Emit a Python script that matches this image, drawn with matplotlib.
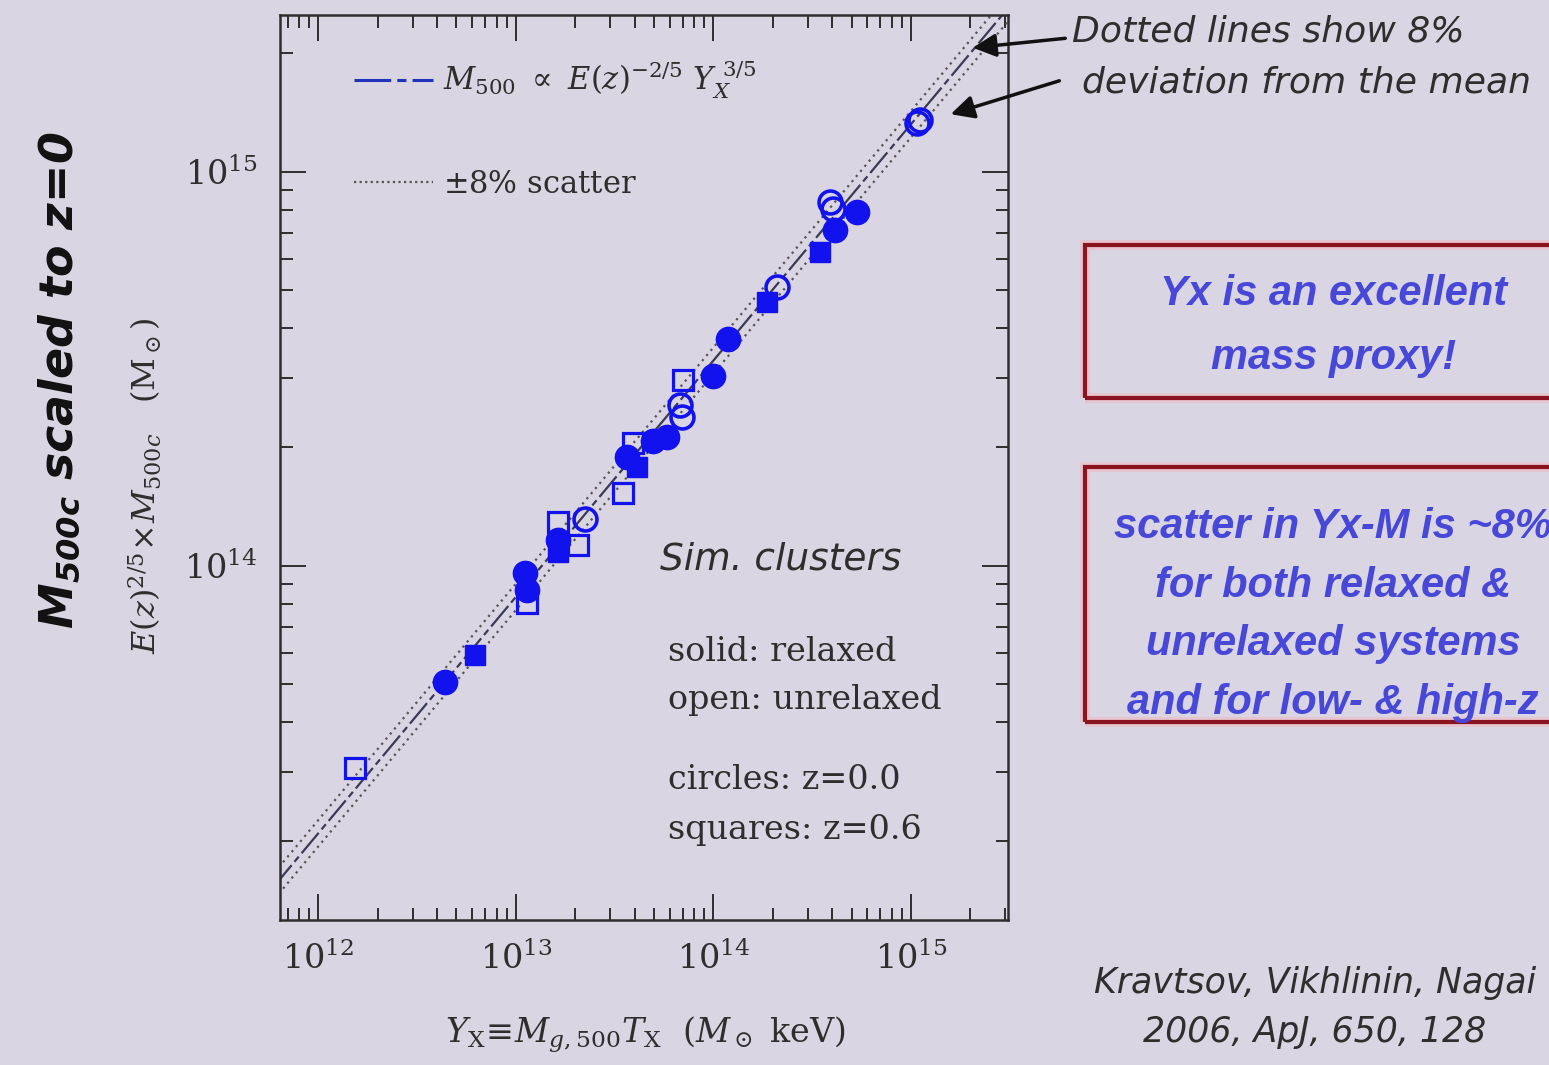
import numpy as np
import matplotlib
matplotlib.use('Agg')
import matplotlib.pyplot as plt
from matplotlib.lines import Line2D
from matplotlib.patches import Rectangle, FancyArrowPatch

plt.rcParams['font.family'] = 'DejaVu Serif'
plt.rcParams['mathtext.fontset'] = 'custom'
plt.rcParams['mathtext.rm'] = 'DejaVu Serif'
plt.rcParams['mathtext.it'] = 'DejaVu Serif:italic'
plt.rcParams['mathtext.bf'] = 'DejaVu Sans:bold:italic'
plt.rcParams['mathtext.fallback'] = 'stix'

# Y_X (Msun keV) and E(z)^{2/5} M500c (Msun) for the simulated clusters
relaxed_z0_yx = [4.39e12, 1.11e13, 1.14e13, 1.64e13, 3.66e13, 4.94e13, 5.82e13,
                 9.95e13, 1.19e14, 4.12e14, 5.32e14]
relaxed_z0_m = [5.05e13, 9.6e13, 8.69e13, 1.16e14, 1.89e14, 2.07e14, 2.12e14,
                3.02e14, 3.75e14, 7.13e14, 7.91e14]

relaxed_z06_yx = [6.22e12, 1.64e13, 4.11e13, 1.87e14, 3.46e14]
relaxed_z06_m = [5.94e13, 1.08e14, 1.78e14, 4.66e14, 6.27e14]

unrelaxed_z0_yx = [2.24e13, 6.93e13, 6.78e13, 2.10e14, 3.89e14, 4.03e14, 1.07e15, 1.11e15]
unrelaxed_z0_m = [1.31e14, 2.38e14, 2.56e14, 5.11e14, 8.39e14, 8.02e14, 1.33e15, 1.35e15]

unrelaxed_z06_yx = [1.54e12, 1.14e13, 1.64e13, 2.07e13, 3.49e13, 3.92e13, 7.01e13]
unrelaxed_z06_m = [3.07e13, 8.05e13, 1.29e14, 1.13e14, 1.53e14, 2.05e14, 2.96e14]

# best-fit M ~ Yx^(3/5) and its +-8% band
slope = 0.6
norm = 1.32e15          # M at Yx = 1e15
scatter = 0.08
yx_line = np.array([6.0e11, 3.5e15])

bg = '#d9d5e2'
blue = '#1212ee'
ink = '#2e2e2e'

fig = plt.figure(figsize=(15.49, 10.65), dpi=100, facecolor=bg)
ax = fig.add_axes([0.1808, 0.1362, 0.470, 0.8498], facecolor=bg)

m_line = norm * (yx_line / 1e15) ** slope
ax.plot(yx_line, m_line, color='#3a3a55', lw=1.6, dashes=[12, 2, 3, 2])
ax.plot(yx_line, m_line * (1 + scatter), color='#555555', lw=1.6, ls=(0, (1, 2)))
ax.plot(yx_line, m_line / (1 + scatter), color='#555555', lw=1.6, ls=(0, (1, 2)))

ax.plot(relaxed_z0_yx, relaxed_z0_m, 'o', ms=17.5, mfc=blue, mec=blue, mew=1)
ax.plot(relaxed_z06_yx, relaxed_z06_m, 's', ms=14, mfc=blue, mec=blue, mew=1)
ax.plot(unrelaxed_z0_yx, unrelaxed_z0_m, 'o', ms=16.5, mfc='none', mec=blue, mew=2.6)
ax.plot(unrelaxed_z06_yx, unrelaxed_z06_m, 's', ms=14, mfc='none', mec=blue, mew=2.3)

ax.set_xscale('log')
ax.set_yscale('log')
ax.set_xlim(6.4e11, 3.1e15)
ax.set_ylim(1.26e13, 2.5e15)

ax.tick_params(which='both', direction='in', top=True, right=True,
               color=ink, width=1.4, labelsize=24, pad=16)
ax.tick_params(which='major', length=19)
ax.tick_params(which='minor', length=9)
for s in ax.spines.values():
    s.set_color(ink)
    s.set_linewidth(1.8)
for lab in ax.get_xticklabels() + ax.get_yticklabels():
    lab.set_color(ink)

ax.set_xlabel(r'$Y_{\rm X}\!\equiv\! M_{g,500}T_{\rm X}$  ($M_\odot$ keV)',
              fontsize=24, color=ink)
ax.xaxis.set_label_coords(0.501, -0.105)
ax.set_ylabel(r'$E(z)^{2/5}\!\times\! M_{500c}$   (M$_\odot$)',
              fontsize=23, color=ink)
ax.yaxis.set_label_coords(-0.16, 0.48)

handles = [Line2D([], [], color='#2233bb', lw=2.2, dashes=[12, 2, 3, 2]),
           Line2D([], [], color='#555555', lw=1.6, ls=(0, (1, 1.5)))]
labels = [r'$M_{500}\ \propto\ E(z)^{-2/5}\ Y_{X}^{\ 3/5}$', r'$\pm$8% scatter']
ax.legend(handles, labels, loc='upper left', bbox_to_anchor=(0.068, 0.978),
          frameon=False, handlelength=2.6, handletextpad=0.3,
          labelspacing=2.2, borderpad=0.3, labelcolor=ink,
          prop={'family': 'DejaVu Serif', 'size': 22})

ax.text(0.522, 0.398, 'Sim. clusters', transform=ax.transAxes, fontsize=27,
        style='italic', color=ink, va='center', family='DejaVu Sans')
for txt, yy in [('solid: relaxed', 0.296), ('open: unrelaxed', 0.243),
                ('circles: z=0.0', 0.155), ('squares: z=0.6', 0.099)]:
    ax.text(0.533, yy, txt, transform=ax.transAxes, fontsize=24,
            color=ink, va='center')

# slide annotations
fig.text(0.0387, 0.643, r'$\mathbf{M_{500c}}$ scaled to z=0', rotation=90,
         fontsize=33, fontweight='bold', style='italic', family='DejaVu Sans',
         ha='center', va='center', color='#111111')

fig.text(0.692, 0.970, 'Dotted lines show 8%', fontsize=26, style='italic',
         color=ink, va='center', family='DejaVu Sans')
fig.text(0.6985, 0.923, 'deviation from the mean', fontsize=26, style='italic',
         color=ink, va='center', family='DejaVu Sans')
for tail, head in [((0.6895, 0.9643), (0.6262, 0.9549)),
                   ((0.6856, 0.9249), (0.6120, 0.8920))]:
    fig.patches.append(FancyArrowPatch(
        tail, head, transform=fig.transFigure,
        arrowstyle='-|>,head_length=14,head_width=7', lw=2.5, color='#111111'))

for y0, h in [(0.6263, 0.1437), (0.3220, 0.2394)]:
    fig.patches.append(Rectangle((0.7005, y0), 0.31, h, transform=fig.transFigure,
                                 fill=False, ec='#f0b8c0', lw=7, alpha=0.6))
    fig.patches.append(Rectangle((0.7005, y0), 0.31, h, transform=fig.transFigure,
                                 fill=False, ec='#8a1520', lw=3.0))

fig.text(0.8606, 0.694, 'Yx is an excellent\nmass proxy!', fontsize=30,
         fontweight='bold', style='italic', color='#4848d8', ha='center',
         va='center', family='Liberation Sans', linespacing=1.75)
fig.text(0.8606, 0.4225,
         'scatter in Yx-M is ~8%\nfor both relaxed &\nunrelaxed systems\nand for low- & high-z',
         fontsize=30, fontweight='bold', style='italic', color='#4848d8',
         ha='center', va='center', family='Liberation Sans', linespacing=1.6)

fig.text(0.849, 0.054, 'Kravtsov, Vikhlinin, Nagai\n2006, ApJ, 650, 128', fontsize=25,
         style='italic', color=ink, ha='center', va='center',
         family='DejaVu Sans', linespacing=1.55)

fig.savefig('out.png', dpi=100, facecolor=bg)
